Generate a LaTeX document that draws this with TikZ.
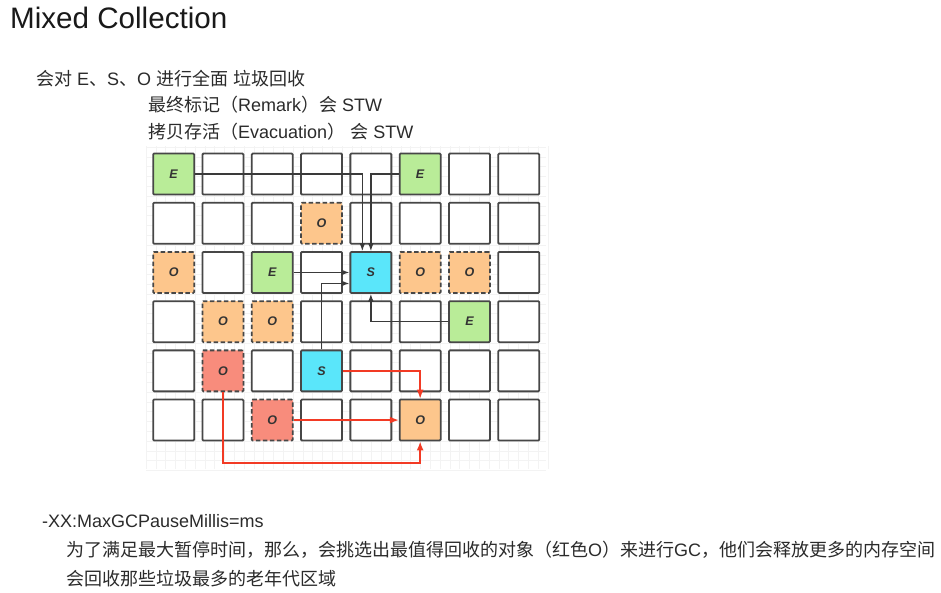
\documentclass[tikz,border=0pt]{standalone}
\usepackage{fontspec}
\setmainfont{Liberation Sans}
\newfontfamily\cjk{Noto Sans CJK SC}
\usetikzlibrary{arrows.meta}
\definecolor{gE}{HTML}{B9EC98}
\definecolor{oO}{HTML}{FDC68C}
\definecolor{rO}{HTML}{F88C7C}
\definecolor{sS}{HTML}{5AE6FA}
\definecolor{cellborder}{HTML}{474747}
\definecolor{txt}{HTML}{333333}
\definecolor{arrc}{HTML}{3A3A3A}
\definecolor{redc}{HTML}{F23A24}
\definecolor{gridc}{HTML}{F3F3F3}
\definecolor{bodytxt}{HTML}{2B2B2B}
\tikzset{
 cell/.style={draw=cellborder, line width=1.8pt, fill=white, minimum size=41pt, inner sep=0pt, rounded corners=1pt, font=\fontsize{12.5}{12.5}\selectfont\bfseries\itshape, text=txt},
 cE/.style={cell, fill=gE},
 cO/.style={cell, fill=oO, dash pattern=on 4.5pt off 2.5pt},
 cR/.style={cell, fill=rO, dash pattern=on 4.5pt off 2.5pt},
 cS/.style={cell, fill=sS},
 cOs/.style={cell, fill=oO},
 arr/.style={draw=arrc, line width=1.3pt, -{Latex[length=8pt,width=6pt]}},
 rarr/.style={draw=redc, line width=1.5pt, -{Latex[length=9pt,width=7pt]}},
 body/.style={anchor=base west, inner sep=0pt, text=bodytxt, font=\fontsize{18}{22}\selectfont},
 gridline/.style={draw=gridc, line width=0.6pt},
}
\begin{document}
\begin{tikzpicture}[x=1pt,y=-1pt]
\useasboundingbox (0,0) rectangle (941,592);
\fill[white] (0,0) rectangle (941,592);
% faint background grid
\foreach \k in {0,...,41} \draw[gridline] ({146+9.8*\k},146) -- ({146+9.8*\k},469);
\foreach \k in {0,...,33} \draw[gridline] (146,{147+9.8*\k}) -- (546,{147+9.8*\k});

% titles and texts
\node[anchor=base west, inner sep=0pt, text=black!90, font=\fontsize{29.6}{34}\selectfont] (title) at (10,28.3) {Mixed Collection};
\node[body] (t1) at (36,85) {{\cjk 会对} E{\cjk 、}S{\cjk 、}O {\cjk 进行全面} {\cjk 垃圾回收}};
\node[body] (t2) at (148,111) {{\cjk 最终标记（}Remark{\cjk ）会} STW};
\node[body] (t3) at (148,138) {{\cjk 拷贝存活（}Evacuation{\cjk ）} {\cjk 会} STW};
\node[body] (b1) at (42,527) {-XX:MaxGCPauseMillis=ms};
\node[body] (b2) at (66,556) {{\cjk 为了满足最大暂停时间，那么，会挑选出最值得回收的对象（红色}O{\cjk ）来进行}GC{\cjk ，他们会释放更多的内存空间}};
\node[body] (b3) at (66,585) {{\cjk 会回收那些垃圾最多的老年代区域}};

% white cells
\foreach \i/\j in {1/0,2/0,3/0,4/0,6/0,7/0,
                   0/1,1/1,2/1,4/1,5/1,6/1,7/1,
                   1/2,3/2,7/2,
                   0/3,3/3,4/3,5/3,7/3,
                   0/4,2/4,4/4,5/4,6/4,7/4,
                   0/5,1/5,3/5,4/5,6/5,7/5}
  \node[cell] (c\i\j) at ({173.65+49.3*\i},{174.05+49.2*\j}) {};
% coloured cells
\node[cE] (c00) at ({173.65+49.3*0},{174.05+49.2*0}) {E};
\node[cE] (c50) at ({173.65+49.3*5},{174.05+49.2*0}) {E};
\node[cO] (c31) at ({173.65+49.3*3},{174.05+49.2*1}) {O};
\node[cO] (c02) at ({173.65+49.3*0},{174.05+49.2*2}) {O};
\node[cE] (c22) at ({173.65+49.3*2},{174.05+49.2*2}) {E};
\node[cS] (c42) at ({173.65+49.3*4},{174.05+49.2*2}) {S};
\node[cO] (c52) at ({173.65+49.3*5},{174.05+49.2*2}) {O};
\node[cO] (c62) at ({173.65+49.3*6},{174.05+49.2*2}) {O};
\node[cO] (c13) at ({173.65+49.3*1},{174.05+49.2*3}) {O};
\node[cO] (c23) at ({173.65+49.3*2},{174.05+49.2*3}) {O};
\node[cE] (c63) at ({173.65+49.3*6},{174.05+49.2*3}) {E};
\node[cR] (c14) at ({173.65+49.3*1},{174.05+49.2*4}) {O};
\node[cS] (c34) at ({173.65+49.3*3},{174.05+49.2*4}) {S};
\node[cR] (c25) at ({173.65+49.3*2},{174.05+49.2*5}) {O};
\node[cOs] (c55) at ({173.65+49.3*5},{174.05+49.2*5}) {O};

% dark arrows to S
\draw[arr] (c00.east) -| ([xshift=-8.5pt]c42.north);
\draw[arr] (c50.west) -| (c42.north);
\draw[arr] (c22.east) -- (c42.west);
\draw[arr] (c34.north) |- ([yshift=-11pt]c42.west);
\draw[arr] (c63.west) -| (c42.south);

% red arrows to O
\coordinate (rb) at ([yshift=-21.5pt]c55.south);
\draw[rarr] (c34.east) -| (c55.north);
\draw[rarr] (c25.east) -- (c55.west);
\draw[rarr] (c14.south) |- (rb) -- (c55.south);
\end{tikzpicture}
\end{document}
